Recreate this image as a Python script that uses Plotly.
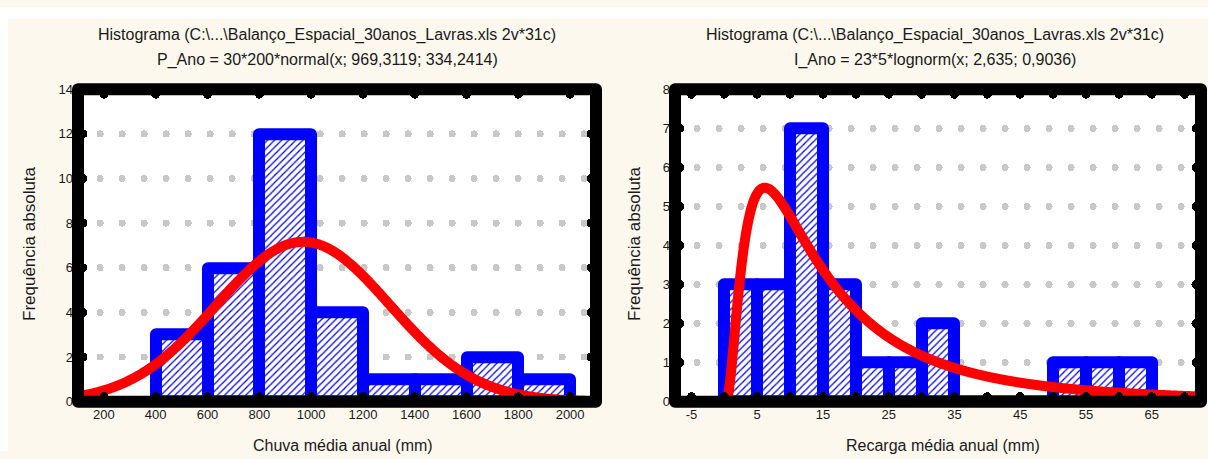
import numpy as np
import plotly.graph_objects as go

# ---------------- data ----------------
p_bin_left = [400, 600, 800, 1000, 1200, 1400, 1600, 1800]
p_counts = [3, 6, 12, 4, 1, 1, 2, 1]
p_bin_width = 200
p_xticks = [200, 400, 600, 800, 1000, 1200, 1400, 1600, 1800, 2000]
p_yticks = [0, 2, 4, 6, 8, 10, 12, 14]
p_fit_n, p_mean, p_sd = 30, 969.3119, 334.2414

r_bin_left = [0, 5, 10, 15, 20, 25, 30, 35, 40, 45, 50, 55, 60]
r_counts = [3, 3, 7, 3, 1, 1, 2, 0, 0, 0, 1, 1, 1]
r_bin_width = 5
r_xticks = [-5, 0, 5, 10, 15, 20, 25, 30, 35, 40, 45, 50, 55, 60, 65, 70]
r_xlabels = ["-5", "", "5", "", "15", "", "25", "", "35", "", "45", "", "55", "", "65", ""]
r_yticks = [0, 1, 2, 3, 4, 5, 6, 7, 8]
r_fit_n, r_mu, r_sigma = 23, 2.635, 0.9036

title_l1 = "Histograma (C:\\...\\Balanço_Espacial_30anos_Lavras.xls 2v*31c)"
title_l2 = "P_Ano = 30*200*normal(x; 969,3119; 334,2414)"
title_r2 = "I_Ano = 23*5*lognorm(x; 2,635; 0,9036)"
xtitle_l = "Chuva média anual (mm)"
xtitle_r = "Recarga média anual (mm)"
ytitle = "Frequência absoluta"

# ---------------- fitted curves (from the stated parameters) ----------------
xl = np.linspace(100, 2100, 600)
yl = p_fit_n * p_bin_width * np.exp(-0.5 * ((xl - p_mean) / p_sd) ** 2) / (p_sd * np.sqrt(2 * np.pi))

xr = np.linspace(-7.5, 72.5, 1000)
yr = np.zeros_like(xr)
pos = xr > 0
yr[pos] = r_fit_n * r_bin_width * np.exp(-0.5 * ((np.log(xr[pos]) - r_mu) / r_sigma) ** 2) / (
    xr[pos] * r_sigma * np.sqrt(2 * np.pi))

W, H = 1208, 459
FONT = "Liberation Sans, Arial, sans-serif"
BLUE = "#0000ff"
RED = "#ff0000"
CREAM = "#fcf8ee"


def px(x):
    return x / W


def py(y):
    return (H - y) / H


fig = go.Figure()

bar_style = dict(
    marker=dict(
        color="white",
        line=dict(color=BLUE, width=12),
        pattern=dict(shape="/", fgcolor=BLUE, bgcolor="white", size=5, solidity=0.25, fillmode="replace"),
    ),
    showlegend=False,
)
curve_line = dict(color=RED, width=10, simplify=False)

fig.add_trace(go.Bar(x=[b + p_bin_width / 2 for b in p_bin_left], y=p_counts, width=p_bin_width,
                     xaxis="x", yaxis="y", **bar_style))
fig.add_trace(go.Scatter(x=xl, y=yl, mode="lines", line=curve_line,
                         xaxis="x", yaxis="y", showlegend=False))
fig.add_trace(go.Bar(x=[b + r_bin_width / 2 for b in r_bin_left], y=r_counts, width=r_bin_width,
                     xaxis="x2", yaxis="y2", **bar_style))
fig.add_trace(go.Scatter(x=xr, y=yr, mode="lines", line=curve_line,
                         xaxis="x2", yaxis="y2", showlegend=False))

tick_common = dict(ticks="inside", ticklen=5, tickwidth=9, tickcolor="black", mirror="ticks",
                   showline=False, zeroline=False,
                   tickfont=dict(family=FONT, size=13, color="#1a1a1a"))
grid = dict(showgrid=True, gridcolor="#c8c8c8", gridwidth=7, griddash="0.1px,21.9px")

y_dom = [py(408), py(85)]
fig.update_layout(
    width=W, height=H, autosize=False,
    margin=dict(l=0, r=0, t=0, b=0),
    paper_bgcolor=CREAM, plot_bgcolor="white",
    bargap=0,
    font=dict(family=FONT, size=13, color="#1a1a1a"),
    xaxis=dict(domain=[px(78), px(596)], range=[100, 2100], tickmode="array", tickvals=p_xticks,
               showgrid=False, anchor="y", ticklabelstandoff=3, **tick_common),
    yaxis=dict(domain=y_dom, range=[0, 14], tickmode="array", tickvals=p_yticks,
               anchor="x", ticklabelstandoff=4, **grid, **tick_common),
    xaxis2=dict(domain=[px(675), px(1201)], range=[-7.5, 72.5], tickmode="array", tickvals=r_xticks,
                ticktext=r_xlabels, showgrid=False, anchor="y2", ticklabelstandoff=3, **tick_common),
    yaxis2=dict(domain=y_dom, range=[0, 8], tickmode="array", tickvals=r_yticks,
                anchor="x2", ticklabelstandoff=4, **grid, **tick_common),
)

shapes = [
    dict(type="rect", xref="paper", yref="paper", x0=0, x1=1, y0=py(12), y1=1,
         fillcolor="white", line=dict(width=0), layer="below"),
    dict(type="rect", xref="paper", yref="paper", x0=0, x1=px(8), y0=0, y1=1,
         fillcolor="white", line=dict(width=0), layer="below"),
    dict(type="rect", xref="x domain", yref="y domain", x0=0, x1=1, y0=0, y1=1,
         line=dict(color="black", width=12), layer="above"),
    dict(type="rect", xref="x2 domain", yref="y2 domain", x0=0, x1=1, y0=0, y1=1,
         line=dict(color="black", width=12), layer="above"),
]
fig.update_layout(shapes=shapes)

ann = []
tf = dict(family=FONT, size=16, color="#1a1a1a")
for cx, l2 in [(327, title_l2), (935, title_r2)]:
    ann.append(dict(text=title_l1, x=px(cx), y=py(29), xref="paper", yref="paper", showarrow=False,
                    xanchor="center", yanchor="middle", font=tf))
    ann.append(dict(text=l2, x=px(cx), y=py(55), xref="paper", yref="paper", showarrow=False,
                    xanchor="center", yanchor="middle", font=tf))
ann.append(dict(text=xtitle_l, x=px(343), y=py(453), xref="paper", yref="paper", showarrow=False,
                xanchor="center", yanchor="middle", font=tf))
ann.append(dict(text=xtitle_r, x=px(943), y=py(453), xref="paper", yref="paper", showarrow=False,
                xanchor="center", yanchor="middle", font=tf))
for cx in (30, 635):
    ann.append(dict(text=ytitle, x=px(cx), y=py(245), xref="paper", yref="paper", showarrow=False,
                    xanchor="center", yanchor="middle", textangle=-90,
                    font=dict(family=FONT, size=17, color="#1a1a1a")))
fig.update_layout(annotations=ann)

post = """
document.documentElement.style.background='%s';
document.body.style.background='%s';
var gd = document.querySelector('.plotly-graph-div');
function fix(){
  gd.querySelectorAll('path.ygrid, path.y2grid').forEach(function(p){p.style.strokeLinecap='round';});
  gd.querySelectorAll('path.ticks').forEach(function(p){p.style.strokeLinecap='round';});
  gd.querySelectorAll('.bars path').forEach(function(p){p.style.strokeLinejoin='round';});
  gd.querySelectorAll('.shapelayer path').forEach(function(p){p.style.strokeLinejoin='round';});
}
fix();
gd.on('plotly_afterplot', fix);
""" % (CREAM, CREAM)

fig.write_html("out.html", post_script=post)
